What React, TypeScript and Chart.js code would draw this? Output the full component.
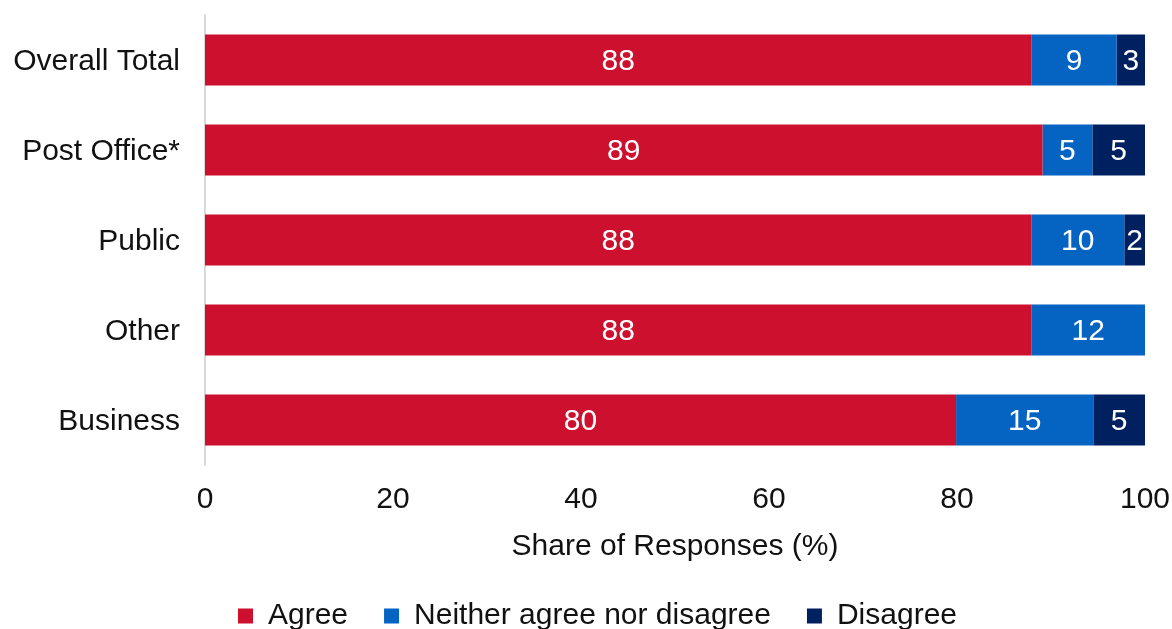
import React, { useEffect, useRef } from "react";
import { Chart, registerables } from "chart.js";

Chart.register(...registerables);

const categories = ["Overall Total", "Post Office*", "Public", "Other", "Business"];
const agreeValues = [87.9, 89.1, 87.9, 87.9, 79.9];
const neitherValues = [9.1, 5.3, 9.9, 12.1, 14.6];
const disagreeValues = [3.0, 5.6, 2.2, 0, 5.5];
const agreeLabels = ["88", "89", "88", "88", "80"];
const neitherLabels = ["9", "5", "10", "12", "15"];
const disagreeLabels = ["3", "5", "2", "", "5"];
const xTicks = [0, 20, 40, 60, 80, 100];

const FONT = "'Liberation Sans', Arial, sans-serif";
const FS = 30;
const TEXT = "#111";

const valueLabelPlugin = {
  id: "valueLabels",
  afterDatasetsDraw(chart: any) {
    const ctx = chart.ctx;
    ctx.save();
    ctx.font = `${FS}px ${FONT}`;
    ctx.fillStyle = "#ffffff";
    ctx.textAlign = "center";
    ctx.textBaseline = "middle";
    chart.data.datasets.forEach((ds: any, di: number) => {
      const meta = chart.getDatasetMeta(di);
      meta.data.forEach((el: any, i: number) => {
        const txt = ds.valueLabels[i];
        if (!txt) return;
        const c = el.getCenterPoint();
        ctx.fillText(txt, c.x, c.y + 2);
      });
    });
    ctx.restore();
  },
};

const legendShiftPlugin = {
  id: "legendShift",
  afterLayout(chart: any) {
    if (chart.legend) {
      chart.legend.left += 25;
      chart.legend.right += 25;
    }
  },
};

export default function App() {
  const ref = useRef<HTMLCanvasElement>(null);
  useEffect(() => {
    if (!ref.current) return;
    const chart = new Chart(ref.current, {
      type: "bar",
      data: {
        labels: categories,
        datasets: [
          { label: "Agree", data: agreeValues, backgroundColor: "#CC102D", valueLabels: agreeLabels } as any,
          { label: "Neither agree nor disagree", data: neitherValues, backgroundColor: "#0563C1", valueLabels: neitherLabels } as any,
          { label: "Disagree", data: disagreeValues, backgroundColor: "#002060", valueLabels: disagreeLabels } as any,
        ],
      },
      options: {
        indexAxis: "y",
        responsive: false,
        animation: false,
        layout: { padding: { top: 15, right: 27, left: 0, bottom: 0 } },
        datasets: { bar: { barPercentage: 0.567, categoryPercentage: 1 } },
        scales: {
          x: {
            stacked: true,
            min: 0,
            max: 100,
            afterBuildTicks: (axis: any) => {
              axis.ticks = xTicks.map((v) => ({ value: v }));
            },
            afterFit: (axis: any) => {
              axis.height = 100;
              axis.paddingLeft = 0;
              axis.paddingRight = 0;
            },
            grid: { display: false, drawTicks: false },
            border: { display: false },
            ticks: { padding: 17, color: TEXT, font: { family: FONT, size: FS } },
            title: {
              display: true,
              text: "Share of Responses (%)",
              color: TEXT,
              font: { family: FONT, size: FS },
              padding: { top: 0, bottom: 0 },
            },
          },
          y: {
            stacked: true,
            afterFit: (axis: any) => {
              axis.width = 205;
              axis.paddingTop = 0;
              axis.paddingBottom = 0;
            },
            grid: { display: false, drawTicks: false },
            border: { display: true, color: "#d9d9d9", width: 2 },
            ticks: { padding: 25, labelOffset: 2, color: TEXT, font: { family: FONT, size: FS } },
          },
        },
        plugins: {
          legend: {
            position: "bottom",
            labels: {
              boxWidth: 15,
              boxHeight: 15,
              padding: 36,
              color: TEXT,
              font: { family: FONT, size: FS },
            },
          },
          tooltip: { enabled: false },
        },
      },
      plugins: [valueLabelPlugin, legendShiftPlugin],
    });
    return () => chart.destroy();
  }, []);
  return (
    <div style={{ position: "fixed", left: 0, top: 0, width: 1172, height: 629, overflow: "hidden", background: "#fff" }}>
      <canvas ref={ref} width={1172} height={641} style={{ display: "block" }} />
    </div>
  );
}
